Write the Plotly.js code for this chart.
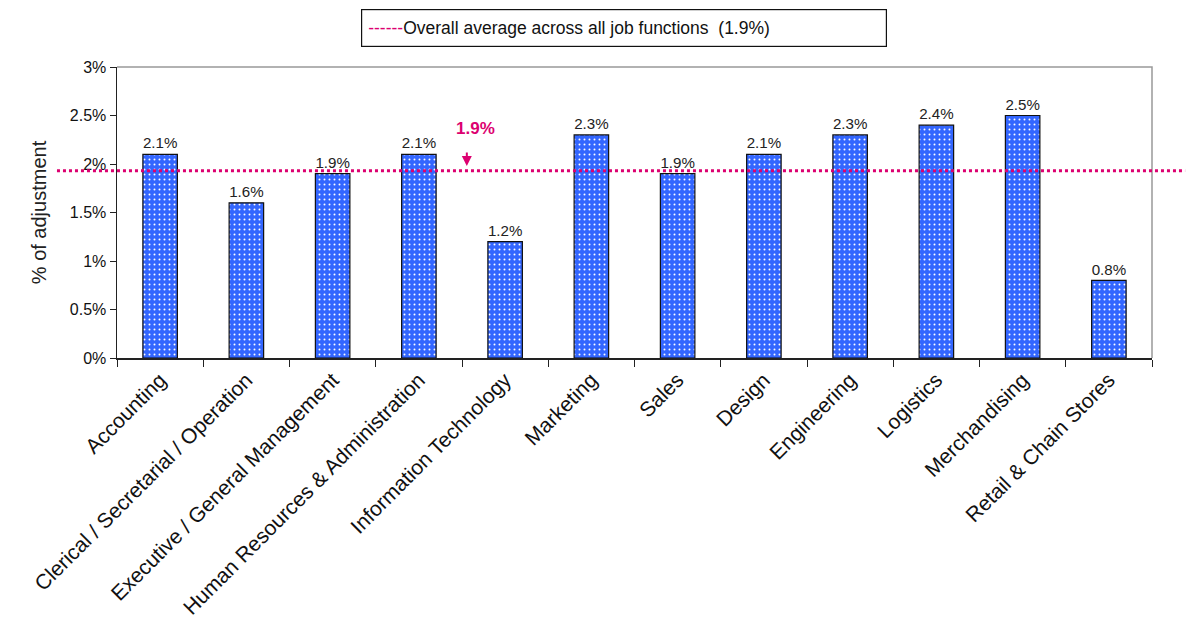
<!DOCTYPE html>
<html><head><meta charset="utf-8">
<script src="https://cdn.plot.ly/plotly-3.0.1.min.js"></script>
<style>html,body{margin:0;padding:0;background:#fff}#chart{width:1187px;height:638px}</style>
</head><body><div id="chart"></div>
<script>
const categories = ["Accounting","Clerical / Secretarial / Operation","Executive / General Management","Human Resources & Administration","Information Technology","Marketing","Sales","Design","Engineering","Logistics","Merchandising","Retail & Chain Stores"];
const values = [2.1,1.6,1.9,2.1,1.2,2.3,1.9,2.1,2.3,2.4,2.5,0.8];
const valueLabels = ["2.1%","1.6%","1.9%","2.1%","1.2%","2.3%","1.9%","2.1%","2.3%","2.4%","2.5%","0.8%"];
const yTickVals = [0,0.5,1,1.5,2,2.5,3];
const yTickText = ["0%","0.5%","1%","1.5%","2%","2.5%","3%"];
const avgValue = 1.93;
const avgLabel = "1.9%";
const legendText = "Overall average across all job functions  (1.9%)";

const magenta = "#dc0070";
const font = "Liberation Sans, Arial, sans-serif";

const trace = {
  type: "bar", x: categories, y: values, width: 0.4,
  text: valueLabels, textposition: "outside", cliponaxis: false,
  textfont: {family: font, size: 16, color: "#222"},
  marker: {color: "#3366ff", line: {color: "#111", width: 1.2},
    pattern: {shape: ".", bgcolor: "#3366ff", fgcolor: "#ffffff", size: 5, solidity: 0.12}},
  hoverinfo: "skip"
};

const layout = {
  width: 1187, height: 638,
  margin: {l: 117, r: 35, t: 67, b: 280},
  paper_bgcolor: "#fff", plot_bgcolor: "#fff",
  showlegend: false, bargap: 0.6,
  font: {family: font, color: "#222"},
  xaxis: {type: "category", tickangle: -45, tickfont: {family: font, size: 21, color: "#111"},
    showline: true, linecolor: "#222", linewidth: 1.5, ticks: "outside", ticklen: 7, tickcolor: "#222",
    tickson: "boundaries", showgrid: false, zeroline: false},
  yaxis: {range: [0, 3], tickvals: yTickVals, ticktext: yTickText, tickfont: {family: font, size: 16, color: "#111"},
    showline: true, linecolor: "#222", linewidth: 1.5, ticks: "outside", ticklen: 6, tickcolor: "#222",
    showgrid: false, zeroline: false,
    title: {text: "% of adjustment", font: {family: font, size: 20, color: "#222"}, standoff: 18}},
  shapes: [
    {type: "path", xref: "paper", yref: "paper", path: "M0,1 L1,1 L1,0", line: {color: "#999", width: 1.5}},
    {type: "line", xref: "paper", yref: "y", x0: -0.058, x1: 1.032, y0: avgValue, y1: avgValue,
      line: {color: magenta, width: 3, dash: "dot"}}
  ],
  annotations: [
    {xref: "paper", yref: "paper", x: 0.490, y: 1.134, xanchor: "center", yanchor: "middle",
      text: '<span style="color:' + magenta + '">------</span>' + legendText,
      showarrow: false, font: {family: font, size: 17.5, color: "#111"},
      bordercolor: "#111", borderwidth: 1.2, borderpad: 6, bgcolor: "#fff", width: 512, height: 24, align: "left"},
    {xref: "paper", yref: "y", x: 0.346, y: 2.37, text: "<b>" + avgLabel + "</b>", showarrow: false,
      font: {family: font, size: 17, color: magenta}},
    {xref: "paper", yref: "y", x: 0.338, y: avgValue + 0.05, ax: 0, ay: -15, text: "",
      showarrow: true, arrowhead: 2, arrowsize: 1, arrowwidth: 2, arrowcolor: magenta}
  ]
};
Plotly.newPlot("chart", [trace], layout, {displayModeBar: false, staticPlot: true});
</script></body></html>
